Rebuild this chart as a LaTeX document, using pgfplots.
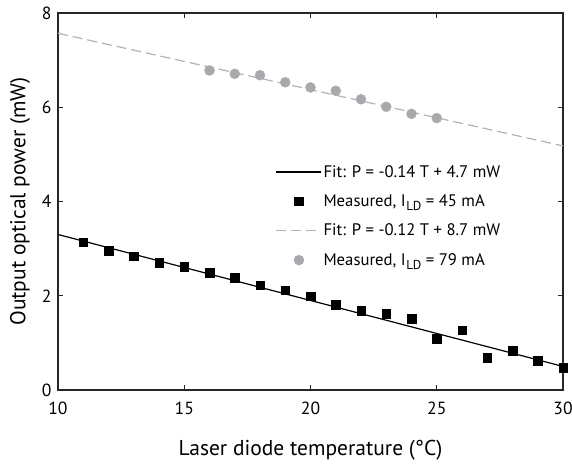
\documentclass[border=0pt]{standalone}
\usepackage{fontspec}
\setmainfont{PT Sans}
\usepackage{pgfplots}
\pgfplotsset{compat=1.18}
\definecolor{ptgray}{RGB}{168,169,172}
\definecolor{dashgray}{RGB}{178,178,180}
\newcommand{\LD}{\kern0.5pt\raisebox{-0.45ex}{\fontsize{13}{13}\selectfont LD}}

\begin{document}
\begin{tikzpicture}
\useasboundingbox (-58pt,-76pt) rectangle (514pt,390pt);
\begin{axis}[
  at={(0,0)}, anchor=south west,
  scale only axis,
  width=505pt, height=377pt,
  xmin=10, xmax=30, ymin=0, ymax=8,
  xtick={10,15,20,25,30},
  ytick={0,2,4,6,8},
  tick align=inside,
  major tick length=5pt,
  axis line style={line width=1.2pt, black!85},
  every tick/.style={line width=1pt, black!85},
  /pgf/number format/assume math mode=true,
  tick label style={font=\fontsize{17.6}{20}\selectfont},
  xticklabel style={yshift=-8pt},
  yticklabel style={xshift=-3pt},
  label style={font=\fontsize{21.5}{24}\selectfont},
  xlabel={Laser diode temperature (°C)},
  ylabel={Output optical power (mW)},
  xlabel style={at={(axis description cs:0.5,-0.159)}, anchor=center},
  ylabel style={at={(axis description cs:-0.075,0.5)}, anchor=center},
  legend cell align=left,
  legend style={draw=none, fill=none, at={(0.425,0.606)}, anchor=north west,
    font=\fontsize{16.7}{19}\selectfont, row sep=13pt,
    nodes={inner sep=1.5pt}},
]
  % fit, 45 mA
  \addplot[black, line width=1.2pt,
    legend image code/.code={\draw[line width=1.2pt] (0pt,0pt) -- (45pt,0pt);}]
    coordinates {(10,3.30)(30,0.50)};
  \addlegendentry{Fit: P = -0.14 T + 4.7 mW}

  \addplot[only marks, mark=square*, mark size=4.3pt, black,
    legend image code/.code={\path[draw=none] (0pt,0pt) -- (45pt,0pt);
      \draw[draw=none] plot[mark=square*] coordinates {(22.5pt,0pt)};},
    ] coordinates {
    (11,3.14)(12,2.96)(13,2.84)(14,2.70)(15,2.62)
    (16,2.49)(17,2.38)(18,2.22)(19,2.12)(20,1.99)
    (21,1.81)(22,1.68)(23,1.62)(24,1.51)(25,1.09)
    (26,1.27)(27,0.68)(28,0.83)(29,0.62)(30,0.47)};
  \addlegendentry{Measured, I\LD{} = 45 mA}

  % fit, 79 mA
  \addplot[dashgray, line width=1.2pt, dash pattern=on 10pt off 5pt,
    legend image code/.code={\draw[line width=1.2pt, dash pattern=on 10pt off 5pt] (0pt,0pt) -- (45pt,0pt);}]
    coordinates {(10,7.57)(30,5.18)};
  \addlegendentry{Fit: P = -0.12 T + 8.7 mW}

  \addplot[only marks, mark=*, mark size=5pt, ptgray,
    legend image code/.code={\path[draw=none] (0pt,0pt) -- (45pt,0pt);
      \draw[draw=none] plot[mark=*] coordinates {(22.5pt,0pt)};},
    ] coordinates {
    (16,6.78)(17,6.71)(18,6.68)(19,6.53)(20,6.42)
    (21,6.35)(22,6.17)(23,6.01)(24,5.86)(25,5.77)};
  \addlegendentry{Measured, I\LD{} = 79 mA}
\end{axis}
\end{tikzpicture}
\end{document}
